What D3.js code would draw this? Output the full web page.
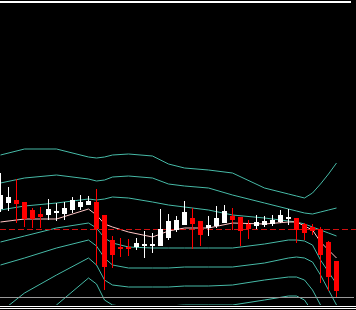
<!DOCTYPE html>
<html>
<head>
<meta charset="utf-8">
<script src="https://cdn.jsdelivr.net/npm/d3@7"></script>
<style>
  html, body { margin: 0; padding: 0; background: #000; }
  svg { display: block; }
</style>
</head>
<body>
<div class="graph"><svg></svg></div>
<script>
// candles, one per bar (price units)
const opens  = [191, 197, 200, 198, 190, 186, 185, 187, 186, 190, 193, 195, 198, 185, 160, 153, 153, 153, 154, 154, 154, 162, 170, 175, 182, 179, 172, 174, 177, 184, 183, 176, 174, 175, 176, 178, 181, 182, 176, 173, 171, 158, 139]
const highs  = [227, 213, 221, 198, 192, 193, 201, 197, 198, 203, 205, 204, 211, 185, 164, 162, 161, 162, 169, 167, 191, 186, 184, 199, 192, 179, 184, 194, 195, 192, 183, 180, 185, 184, 185, 190, 191, 182, 177, 176, 173, 159, 139]
const lows   = [188, 189, 177, 173, 172, 172, 180, 179, 180, 187, 190, 195, 135, 110, 132, 143, 144, 150, 142, 147, 154, 160, 168, 175, 151, 154, 164, 172, 177, 170, 154, 161, 171, 173, 174, 177, 175, 157, 160, 165, 117, 109, 103]
const closes = [205, 203, 196, 181, 181, 183, 191, 189, 192, 200, 198, 199, 171, 133, 145, 151, 151, 157, 156, 156, 171, 179, 180, 188, 176, 165, 175, 182, 189, 180, 169, 171, 178, 179, 180, 185, 183, 170, 167, 169, 145, 123, 109]

// indicator lines, sampled at these bar indices
const bandIdx = [0, 3, 7, 11, 12, 13, 14, 16, 19, 21, 23, 26, 29, 33, 36, 37, 38, 39, 40, 41, 42]
const upper3 = [245, 251, 251, 243, 242, 243, 245, 246, 244, 236, 232, 230, 227, 212, 206, 204, 202, 207, 216, 226, 237]
const upper2 = [217, 222, 225, 221, 219, 220, 223, 224, 222, 216, 214, 212, 205, 197, 191, 189, 187, 186, 188, 190, 192]
const upper1 = [190, 194, 197, 201, 200, 201, 203, 202, 198, 195, 193, 190, 185, 182, 179, 178, 176, 173, 170, 167, 164]
const middle = [178, 181, 181, 191, 185, 176, 173, 168, 163, 169, 172, 172, 177, 176, 178, 178, 174, 170, 158, 150, 142]
const lower1 = [158, 164, 172, 177, 172, 162, 157, 153, 152, 152, 152, 152, 152, 156, 160, 160, 159, 155, 140, 128, 116]
const lower2 = [135, 142, 152, 160, 154, 142, 135, 132, 132, 132, 133, 133, 133, 137, 142, 143, 142, 138, 125, 110, 95]
const lower3 = [88, 107, 125, 142, 135, 120, 115, 113, 113, 113, 114, 114, 115, 120, 123, 123, 120, 110, 95, 80, 65]
const lower4 = [40, 70, 95, 122, 116, 100, 95, 93, 93, 94, 95, 95, 95, 100, 104, 104, 100, 88, 70, 55, 40]

const levelPrice = 171 // dashed red level

const width = 356
const height = 310

const svg = d3.select('.graph').select('svg')
  .attr('width', width)
  .attr('height', height)

svg.append('rect')
  .attr('width', width)
  .attr('height', height)
  .attr('fill', '#000')

svg.append('defs').append('clipPath')
  .attr('id', 'plot-clip')
  .append('rect')
  .attr('x', 0)
  .attr('y', 0)
  .attr('width', width)
  .attr('height', 305)

const xScale = d3.scaleLinear().domain([0, 42]).range([0.5, 336.5])
const yScale = d3.scaleLinear().domain([90, 400]).range([310, 0])

const plot = svg.append('g').attr('clip-path', 'url(#plot-clip)')

// bands
const bandLine = d3.line()
  .x((d, i) => xScale(bandIdx[i]))
  .y(d => yScale(d))

plot.selectAll('path.band')
  .data([upper3, upper2, upper1, lower1, lower2, lower3, lower4])
  .join('path')
  .attr('class', 'band')
  .attr('d', bandLine)
  .attr('fill', 'none')
  .attr('stroke', '#46b9a6')
  .attr('stroke-width', 1)

plot.append('path')
  .attr('d', bandLine(middle))
  .attr('fill', 'none')
  .attr('stroke', '#ffc4c4')
  .attr('stroke-width', 1)

// dashed level
plot.append('line')
  .attr('x1', 0)
  .attr('x2', width)
  .attr('y1', Math.round(yScale(levelPrice)) + 0.5)
  .attr('y2', Math.round(yScale(levelPrice)) + 0.5)
  .attr('stroke', '#d01010')
  .attr('stroke-dasharray', '6,3')
  .attr('shape-rendering', 'crispEdges')

// candles
const bars = d3.range(opens.length).map(i => ({
  i, o: opens[i], h: highs[i], l: lows[i], c: closes[i]
}))

const candle = plot.selectAll('g.candle')
  .data(bars)
  .join('g')
  .attr('class', 'candle')
  .attr('shape-rendering', 'crispEdges')

candle.append('line')
  .attr('x1', d => xScale(d.i))
  .attr('x2', d => xScale(d.i))
  .attr('y1', d => yScale(d.h))
  .attr('y2', d => yScale(d.l))
  .attr('stroke', d => d.c >= d.o ? '#ffffff' : '#ff0000')

candle.append('rect')
  .attr('x', d => xScale(d.i) - 2.5)
  .attr('width', 5)
  .attr('y', d => Math.min(yScale(d.o), yScale(d.c)) - (Math.abs(d.o - d.c) < 2 ? 1 : 0))
  .attr('height', d => Math.max(Math.abs(yScale(d.o) - yScale(d.c)), 2))
  .attr('fill', d => d.c >= d.o ? '#ffffff' : '#ff0000')

// frame lines
svg.append('line')
  .attr('x1', 0).attr('x2', 351).attr('y1', 1.5).attr('y2', 1.5)
  .attr('stroke', '#ffffff').attr('stroke-width', 2)
  .attr('shape-rendering', 'crispEdges')

svg.append('line')
  .attr('x1', 0).attr('x2', 354).attr('y1', 297.5).attr('y2', 297.5)
  .attr('stroke', '#9a9a9a')
  .attr('shape-rendering', 'crispEdges')

svg.selectAll('line.bottom')
  .data([306.5, 308.5])
  .join('line')
  .attr('class', 'bottom')
  .attr('x1', 0).attr('x2', width)
  .attr('y1', d => d).attr('y2', d => d)
  .attr('stroke', '#ffffff')
  .attr('shape-rendering', 'crispEdges')
</script>
</body>
</html>
